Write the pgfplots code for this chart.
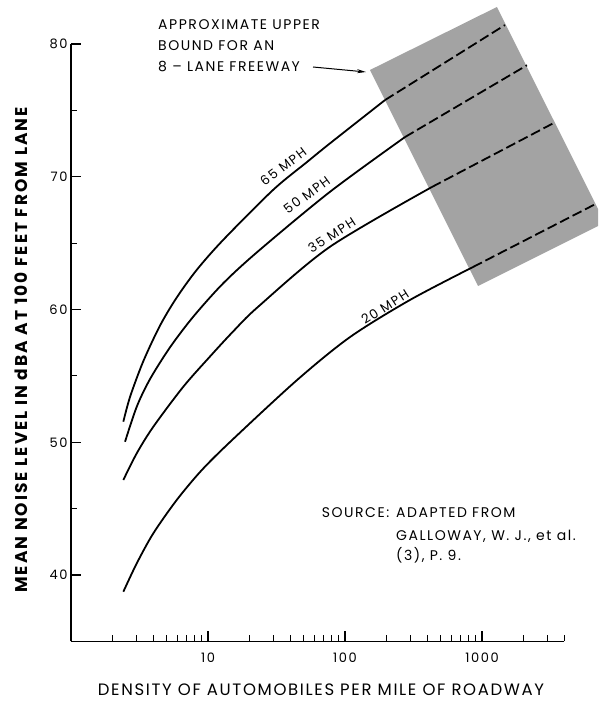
\documentclass[border=0pt]{standalone}
\usepackage{fontspec}
\setmainfont{Poppins}
\usepackage{pgfplots}
\pgfplotsset{compat=1.18}
\usetikzlibrary{arrows.meta}
\begin{document}
\begin{tikzpicture}
\begin{axis}[
  scale only axis, width=493.5pt, height=597.4pt,
  at={(0,0)}, anchor=south west,
  xmode=log, xmin=1, xmax=4000, ymin=35, ymax=80,
  axis x line=bottom, axis y line=left,
  axis line style={-, line width=1.5pt},
  clip=false,
  tick align=inside,
  xtick={10,100,1000}, xticklabels={10,100,1000},
  minor xtick={2,3,4,5,6,7,8,9,20,30,40,50,60,70,80,90,200,300,400,500,600,700,800,900,2000,3000,4000},
  ytick={40,50,60,70,80},
  minor ytick={45,55,65,75},
  major tick length=10pt, minor tick length=6pt,
  every tick/.style={line width=1.2pt, black},
  /pgf/number format/assume math mode=true,
  tick label style={font=\fontsize{13}{13}\selectfont\addfontfeature{LetterSpace=12}},
  xticklabel style={yshift=-8pt},
  xlabel={DENSITY OF AUTOMOBILES PER MILE OF ROADWAY},
  xlabel style={at={(axis description cs:0.5066,-0.0814)}, anchor=center, font=\fontsize{16.5}{17}\selectfont\addfontfeature{LetterSpace=10}},
  ylabel={MEAN NOISE LEVEL IN dBA AT 100 FEET FROM LANE},
  ylabel style={at={(axis description cs:-0.1013,0.4878)}, anchor=center, rotate=0, font=\fontsize{17}{18}\selectfont\bfseries\addfontfeature{LetterSpace=12}},
]
% shaded region
\addplot[fill=black!36, draw=none] coordinates {(152,78.04) (1285,82.79) (7030,67.57) (7030,66.29) (935,61.77)} -- cycle;
% 65 MPH
\addplot[black, line width=1.8pt, smooth] coordinates {(2.41,51.55) (2.70,53.43) (3.37,56.10) (4.47,58.80) (5.91,60.90) (8.27,62.98) (12.9,65.24) (29.8,69.00) (52.8,71.11) (77.8,72.52) (196,75.78)};
\addplot[black, line width=1.8pt, dash pattern=on 10pt off 4pt] coordinates {(196,75.78) (1472,81.43)};
% 50 MPH
\addplot[black, line width=1.8pt, smooth] coordinates {(2.48,50.04) (3.02,52.68) (3.77,54.75) (5.28,57.15) (7.81,59.46) (12.9,61.97) (23.3,64.40) (77.8,68.87) (274,72.99)};
\addplot[black, line width=1.8pt, dash pattern=on 10pt off 4pt] coordinates {(274,72.99) (2128,78.4)};
% 35 MPH
\addplot[black, line width=1.8pt, smooth] coordinates {(2.41,47.16) (3.02,49.17) (3.99,51.17) (6.60,54.18) (10.3,56.44) (15.3,58.36) (23.3,60.22) (77.8,64.73) (431,69.23)};
\addplot[black, line width=1.8pt, dash pattern=on 10pt off 4pt] coordinates {(431,69.23) (3412,74.1)};
% 20 MPH
\addplot[black, line width=1.8pt, smooth] coordinates {(2.41,38.74) (3.02,40.88) (3.99,43.14) (5.91,45.65) (9.0,47.90) (15.0,50.17) (44.7,54.69) (109,57.93) (298,60.72) (859,63.2)};
\addplot[black, line width=1.8pt, dash pattern=on 10pt off 4pt] coordinates {(859,63.2) (6900,68.0)};
\end{axis}
% curve labels
\begin{scope}[every node/.style={font=\fontsize{13}{13}\selectfont\addfontfeature{LetterSpace=12}, inner sep=0pt, anchor=center}]
\node[rotate=37] at (212.3pt,474.7pt) {65 MPH};
\node[rotate=36] at (235.7pt,446.4pt) {50 MPH};
\node[rotate=32.5] at (260.7pt,406.4pt) {35 MPH};
\node[rotate=32.5] at (314pt,334.7pt) {20 MPH};
\end{scope}
% annotations
\begin{scope}[every node/.style={font=\fontsize{14}{14}\selectfont\addfontfeature{LetterSpace=11}, inner sep=0pt, anchor=base west}]
\node at (87pt,612.1pt) {APPROXIMATE UPPER};
\node at (87pt,590.9pt) {BOUND FOR AN};
\node at (87pt,569.4pt) {8 -- LANE FREEWAY};
\node at (250.7pt,123.4pt) {SOURCE:};
\node at (325pt,123.4pt) {ADAPTED FROM};
\node at (325pt,101.4pt) {GALLOWAY, W. J., et al.};
\node at (325pt,80.4pt) {(3), P. 9.};
\end{scope}
\draw[line width=1pt, -{Stealth[length=9pt,width=4pt]}] (242pt,574.4pt) -- (295pt,569.4pt);
\pgfresetboundingbox
\useasboundingbox (-71pt,-60.6pt) rectangle (527pt,641.4pt);
\end{tikzpicture}
\end{document}
